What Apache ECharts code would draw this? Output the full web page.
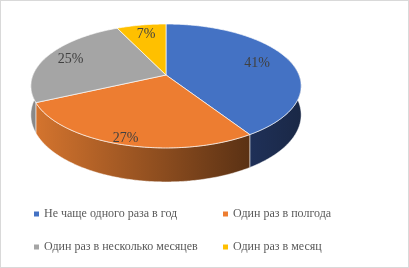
<!DOCTYPE html>
<html>
<head>
<meta charset="utf-8">
<script src="https://cdn.jsdelivr.net/npm/echarts@6/dist/echarts.min.js"></script>
<style>
  html, body { margin: 0; padding: 0; background: #fff; }
  #chart { width: 409px; height: 268px; box-sizing: border-box; border: 1px solid #d9d9d9; }
</style>
</head>
<body>
<div id="chart"></div>
<script>
const categories = ['Не чаще одного раза в год', 'Один раз в полгода', 'Один раз в несколько месяцев', 'Один раз в месяц'];
const values = [41, 27, 25, 7];
const colors = ['#4472c4', '#ed7d31', '#a5a5a5', '#ffc000'];
const sideColors = [
  ['#1f3058', '#1a2846'],
  ['#d4742e', '#5a3114'],
  ['#8c8c8c', '#7a7a7a'],
  ['#c49300', '#a67c00']
];

// fake 3D pie geometry
const CX = 165, CY = 74, R = 133, T = 60, P = 0.177, D = 28;
const labelR = [0.74, 0.92, 0.8, 0.78];
const total = values.reduce((a, b) => a + b, 0);

function proj(a, r, dz) {
  const u = Math.sin(a), v = -Math.cos(a);
  const f = 1 / (1 - P * v * r);
  return [CX + R * r * u * f, CY + T * r * v * f + (dz || 0) * f];
}

function arc(a0, a1, dz) {
  const pts = [];
  const n = Math.max(2, Math.ceil((a1 - a0) / 0.01));
  for (let k = 0; k <= n; k++) pts.push(proj(a0 + (a1 - a0) * k / n, 1, dz));
  return pts;
}

function makeRender(idx) {
  return function (params, api) {
    let before = 0;
    for (let j = 0; j < idx; j++) before += values[j];
    const a0 = before / total * 2 * Math.PI;
    const a1 = (before + values[idx]) / total * 2 * Math.PI;
    const children = [];

    // side wall (front part only)
    const s0 = Math.max(a0, Math.PI * 0.4), s1 = Math.min(a1, Math.PI * 1.6);
    if (s1 > s0) {
      const top = arc(s0, s1, 0);
      const bot = arc(s0, s1, D).reverse();
      children.push({
        type: 'polygon',
        z2: 1,
        shape: { points: top.concat(bot) },
        style: {
          fill: {
            type: 'linear', x: 0, y: 0, x2: 1, y2: 0,
            colorStops: [{ offset: 0, color: sideColors[idx][0] }, { offset: 1, color: sideColors[idx][1] }]
          },
          stroke: 'rgba(255,255,255,0.7)',
          lineWidth: 0.7
        }
      });
    }

    // top face
    const pts = [proj(0, 0, 0)].concat(arc(a0, a1, 0));
    children.push({
      type: 'polygon',
      z2: 10,
      shape: { points: pts },
      style: { fill: colors[idx], stroke: 'rgba(255,255,255,0.85)', lineWidth: 0.8 }
    });

    // percentage label
    const mid = (a0 + a1) / 2;
    const lp = proj(mid, labelR[idx], 0);
    children.push({
      type: 'text',
      z2: 20,
      x: lp[0], y: lp[1],
      style: {
        text: Math.round(values[idx] / total * 100) + '%',
        fill: '#404040',
        font: '14px "Liberation Serif"',
        align: 'center',
        verticalAlign: 'middle'
      }
    });
    return { type: 'group', children: children };
  };
}

const legendText = { fontFamily: 'Liberation Serif', fontSize: 12, color: '#595959', lineHeight: 14 };

const chart = echarts.init(document.getElementById('chart'));
chart.setOption({
  animation: false,
  legend: [
    {
      data: [categories[0], categories[2]],
      orient: 'vertical', left: 33, top: 206, padding: 0, itemGap: 19,
      icon: 'rect', itemWidth: 5, itemHeight: 5, selectedMode: false,
      textStyle: legendText
    },
    {
      data: [categories[1], categories[3]],
      orient: 'vertical', left: 222, top: 206, padding: 0, itemGap: 19,
      icon: 'rect', itemWidth: 5, itemHeight: 5, selectedMode: false,
      textStyle: legendText
    }
  ],
  series: categories.map((name, i) => ({
    type: 'custom',
    name: name,
    coordinateSystem: 'none',
    silent: true,
    itemStyle: { color: colors[i] },
    data: [[values[i]]],
    renderItem: makeRender(i)
  }))
});
</script>
</body>
</html>
